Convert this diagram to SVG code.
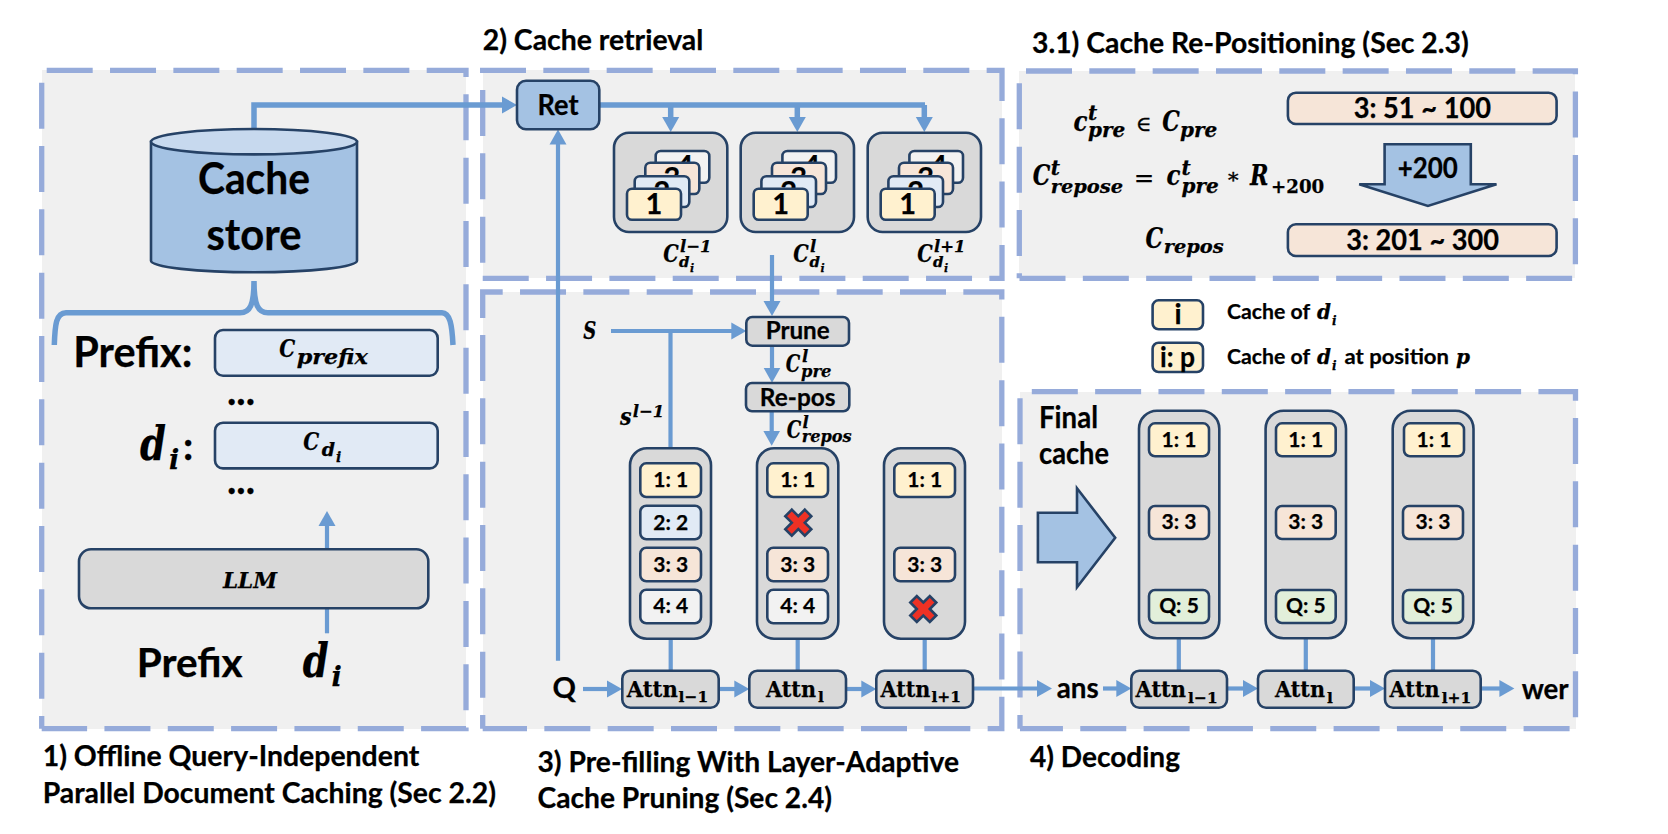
<svg xmlns="http://www.w3.org/2000/svg" width="1668" height="834" viewBox="0 0 1668 834">
<style>
text{fill:#000;font-family:"Lato","Liberation Sans",sans-serif;font-weight:700;stroke:#000;stroke-width:.25}
.m,.m tspan{font-family:"DejaVu Serif","Liberation Serif",serif;font-weight:700;font-style:italic}
.a,.a tspan{font-family:"DejaVu Serif","Liberation Serif",serif;font-weight:700;font-style:normal}
.c{text-anchor:middle}
.title{font-size:28px}
.bg{fill:#f0f0f0}
.dash{fill:none;stroke:#96abda;stroke-width:5.3;stroke-dasharray:46 17.33}
.n{stroke:#264266;stroke-width:2.6}
.gray{fill:#d9d9d9}
.blue{fill:#a4c2e3}
.y{fill:#fff1cf}.b{fill:#e1eaf5}.o{fill:#f6e5d8}.w{fill:#f2f2f2}.g{fill:#e2efda}
.chip{font-size:21px;text-anchor:middle}
.x{fill:#ee3124;stroke:#264266;stroke-width:2.6}
.l{fill:none;stroke:#6a9bd2;stroke-width:4.2}
.l5{fill:none;stroke:#6a9bd2;stroke-width:5.5}
.ar{marker-end:url(#h)}
.num{font-size:29px;text-anchor:middle}
.sym{font-family:"DejaVu Serif",serif;font-weight:400;stroke-width:.4}
</style>
<defs>
<marker id="h" markerUnits="userSpaceOnUse" markerWidth="16" markerHeight="18" refX="7" refY="8.5" orient="auto" viewBox="0 0 16 17"><polygon points="0,0 15,8.5 0,17" fill="#6a9bd2"/></marker>
</defs>

<g id="panels">
<rect class="bg" x="42" y="70" width="424" height="659"/>
<rect class="bg" x="483" y="70" width="519" height="208"/>
<rect class="bg" x="483" y="292" width="519" height="437"/>
<rect class="bg" x="1019" y="71" width="556" height="207"/>
<rect class="bg" x="1020" y="392" width="556" height="337"/>
<path class="dash" d="M46.7 70.3H466V728.7H41.7M41.7 82.7V728.7"/>
<path class="dash" d="M480 70.3H1002V278.3H482.7M482.7 90V278.3"/>
<path class="dash" d="M482.7 318V292H1001.8V728.7H482.7M482.7 335V728.7"/>
<path class="dash" d="M1026 71H1575.4V278.3H1019.3M1019.3 83.3V278.3"/>
<path class="dash" d="M1031.8 391.7H1575.5V728.7H1020M1020 398.3V728.7"/>
</g>

<g id="connectors">
<path class="l5 ar" d="M254 129V105H509"/>
<path class="l5" d="M599 105H925"/>
<path class="l5 ar" d="M670.7 105V124"/>
<path class="l5 ar" d="M797.3 105V124"/>
<path class="l5 ar" d="M924.3 105V124"/>
<path class="l ar" d="M558 660.7V137.5"/>
<path class="l ar" d="M772 255V308"/>
<path class="l ar" d="M772 345.7V374.7"/>
<path class="l ar" d="M771.7 411.3V437.7"/>
<path class="l ar" d="M611 331H738.3"/>
<path class="l" d="M670.5 331V448.3"/>
<path class="l" d="M670.7 638.7V670.7M797.7 638.7V670.7M924.7 638.7V670.7"/>
<path class="l" d="M1178.8 638.3V670.7M1305.8 638.3V670.7M1433 638.3V670.7"/>
<path class="l ar" d="M583 689H614"/>
<path class="l ar" d="M718.7 689H741.3"/>
<path class="l ar" d="M846 689H868.3"/>
<path class="l ar" d="M973 688.5H1044"/>
<path class="l ar" d="M1103 688.5H1123.3"/>
<path class="l ar" d="M1227 688.5H1250"/>
<path class="l ar" d="M1353.7 688.5H1377"/>
<path class="l ar" d="M1480.7 688.5H1506.4"/>
<path class="l ar" d="M327 633.3V519"/>
<path class="l5" d="M54.3 345C55 325 56 312.7 66 312.7H240C250 312.7 254 305 254 281C254 305 258 312.7 268 312.7H442C450 312.7 452 325 453 345"/>
</g>

<g id="titles">
<text class="title" x="482.7" y="50" textLength="220.6" lengthAdjust="spacingAndGlyphs">2) Cache retrieval</text>
<text class="title" x="1032" y="53.3" textLength="436.7" lengthAdjust="spacingAndGlyphs">3.1) Cache Re-Positioning (Sec 2.3)</text>
<text class="title" x="42.7" y="766" textLength="376.6" lengthAdjust="spacingAndGlyphs">1) Offline Query-Independent</text>
<text class="title" x="42.7" y="803.3" textLength="453.3" lengthAdjust="spacingAndGlyphs">Parallel Document Caching (Sec 2.2)</text>
<text class="title" x="537.5" y="771.7" textLength="421.5" lengthAdjust="spacingAndGlyphs">3) Pre-filling With Layer-Adaptive</text>
<text class="title" x="537.5" y="807.7" textLength="294.5" lengthAdjust="spacingAndGlyphs">Cache Pruning (Sec 2.4)</text>
<text class="title" x="1030" y="766.7" textLength="150" lengthAdjust="spacingAndGlyphs">4) Decoding</text>
</g>

<g id="cache-store">
<path class="n blue" d="M151 141.7V260.7C151 267 197 272.3 254 272.3S357 267 357 260.7V141.7Z"/>
<ellipse class="n" fill="#c7d9ee" cx="254" cy="141.7" rx="103" ry="12.7"/>
<text class="c" x="254" y="194.3" font-size="43" textLength="112" lengthAdjust="spacingAndGlyphs">Cache</text>
<text class="c" x="254" y="250" font-size="43" textLength="95" lengthAdjust="spacingAndGlyphs">store</text>
</g>

<g id="prefix-row">
<text x="73.3" y="366.7" font-size="42" textLength="119" lengthAdjust="spacingAndGlyphs">Prefix:</text>
<rect class="n b" x="215" y="330" width="222.7" height="45.7" rx="8"/>
<text class="m" font-size="25"><tspan x="279.3" y="356.7" textLength="16" lengthAdjust="spacingAndGlyphs">C</tspan><tspan x="296.7" y="364.3" font-size="21" textLength="71" lengthAdjust="spacingAndGlyphs">prefix</tspan></text>
<text x="227" y="405" font-size="40" textLength="28" lengthAdjust="spacingAndGlyphs">...</text>
</g>

<g id="di-row">
<text class="m" font-size="46"><tspan x="140" y="460" textLength="26" lengthAdjust="spacingAndGlyphs">d</tspan><tspan x="169" y="469.3" font-size="27">i</tspan></text>
<text x="183" y="460" font-size="40">:</text>
<rect class="n b" x="215" y="422.7" width="222.7" height="45.7" rx="8"/>
<text class="m" font-size="25"><tspan x="303.3" y="450" textLength="16" lengthAdjust="spacingAndGlyphs">C</tspan><tspan x="321.7" y="456" font-size="19">d</tspan><tspan x="336" y="461.7" font-size="14">i</tspan></text>
<text x="227" y="493.5" font-size="40" textLength="28" lengthAdjust="spacingAndGlyphs">...</text>
</g>

<g id="llm">
<rect class="n gray" x="79" y="549.3" width="349.3" height="59" rx="12"/>
<text class="m c" x="250" y="587.7" font-size="21.5">LLM</text>
</g>

<g id="inputs">
<text x="136.7" y="676.7" font-size="41" textLength="106" lengthAdjust="spacingAndGlyphs">Prefix</text>
<text class="m" font-size="46"><tspan x="302.7" y="676.7" textLength="26" lengthAdjust="spacingAndGlyphs">d</tspan><tspan x="331.5" y="686" font-size="27">i</tspan></text>
</g>

<g id="ret">
<rect class="n blue" x="517" y="80.7" width="82.3" height="48.6" rx="9"/>
<text class="c" x="558" y="115" font-size="28" textLength="41" lengthAdjust="spacingAndGlyphs">Ret</text>
</g>

<g id="cache-l-1">
<rect class="n gray" x="614" y="132.7" width="113.3" height="99.3" rx="15"/>
<rect class="n w" x="655.7" y="151" width="53.6" height="31.7" rx="5"/><text class="num" x="685" y="176">4</text>
<rect class="n o" x="645.3" y="162.7" width="54" height="31.3" rx="5"/><text class="num" x="672" y="188">3</text>
<rect class="n b" x="634.7" y="176.3" width="54.6" height="30.7" rx="5"/><text class="num" x="662" y="202">2</text>
<rect class="n y" x="627" y="188.7" width="54" height="31" rx="5"/><text class="num" x="654" y="214">1</text>
</g>
<g id="cache-l">
<rect class="n gray" x="740.7" y="132.7" width="113.3" height="99.3" rx="15"/>
<rect class="n w" x="782.4" y="151" width="53.6" height="31.7" rx="5"/><text class="num" x="811.7" y="176">4</text>
<rect class="n o" x="772" y="162.7" width="54" height="31.3" rx="5"/><text class="num" x="798.7" y="188">3</text>
<rect class="n b" x="761.4" y="176.3" width="54.6" height="30.7" rx="5"/><text class="num" x="788.7" y="202">2</text>
<rect class="n y" x="753.7" y="188.7" width="54" height="31" rx="5"/><text class="num" x="780.7" y="214">1</text>
</g>
<g id="cache-l1">
<rect class="n gray" x="867.7" y="132.7" width="113.3" height="99.3" rx="15"/>
<rect class="n w" x="909.4" y="151" width="53.6" height="31.7" rx="5"/><text class="num" x="938.7" y="176">4</text>
<rect class="n o" x="899" y="162.7" width="54" height="31.3" rx="5"/><text class="num" x="925.7" y="188">3</text>
<rect class="n b" x="888.4" y="176.3" width="54.6" height="30.7" rx="5"/><text class="num" x="915.7" y="202">2</text>
<rect class="n y" x="880.7" y="188.7" width="54" height="31" rx="5"/><text class="num" x="907.7" y="214">1</text>
</g>
<g id="cache-labels">
<text class="m" font-size="24"><tspan x="663.3" y="261.7" textLength="15.5" lengthAdjust="spacingAndGlyphs">C</tspan><tspan x="680" y="251.5" font-size="16.5">l−1</tspan><tspan x="679" y="267" font-size="15">d</tspan><tspan x="690" y="271.5" font-size="11">i</tspan></text>
<text class="m" font-size="24"><tspan x="793.3" y="261.7" textLength="15.5" lengthAdjust="spacingAndGlyphs">C</tspan><tspan x="810" y="251.5" font-size="16.5">l</tspan><tspan x="809.5" y="267" font-size="15">d</tspan><tspan x="820.5" y="271.5" font-size="11">i</tspan></text>
<text class="m" font-size="24"><tspan x="917.3" y="261.7" textLength="15.5" lengthAdjust="spacingAndGlyphs">C</tspan><tspan x="934" y="251.5" font-size="16.5">l+1</tspan><tspan x="933" y="267" font-size="15">d</tspan><tspan x="944" y="271.5" font-size="11">i</tspan></text>
</g>

<g id="prune">
<rect class="n gray" x="746.3" y="317" width="102.7" height="28.7" rx="6"/>
<text class="c" x="797.7" y="339.3" font-size="24" textLength="64" lengthAdjust="spacingAndGlyphs">Prune</text>
</g>
<g id="repos">
<rect class="n gray" x="746" y="383" width="103.3" height="28.3" rx="6"/>
<text class="c" x="797.7" y="405.7" font-size="24" textLength="75.7" lengthAdjust="spacingAndGlyphs">Re-pos</text>
</g>
<g id="row3-labels">
<text class="m" x="583.3" y="339.3" font-size="25" textLength="13" lengthAdjust="spacingAndGlyphs">S</text>
<text class="m" font-size="24"><tspan x="620" y="425" textLength="11.5" lengthAdjust="spacingAndGlyphs">s</tspan><tspan x="632.7" y="416.7" font-size="16.5">l−1</tspan></text>
<text class="m" font-size="24"><tspan x="785.7" y="371.7" textLength="14.5" lengthAdjust="spacingAndGlyphs">C</tspan><tspan x="802" y="361.7" font-size="16.5">l</tspan><tspan x="801" y="376.7" font-size="17" textLength="30.5" lengthAdjust="spacingAndGlyphs">pre</tspan></text>
<text class="m" font-size="24"><tspan x="786.7" y="437.7" textLength="14.5" lengthAdjust="spacingAndGlyphs">C</tspan><tspan x="802.5" y="428" font-size="16.5">l</tspan><tspan x="801.7" y="442.3" font-size="16.5" textLength="50" lengthAdjust="spacingAndGlyphs">repos</tspan></text>
</g>

<g id="layer-l-1">
<rect class="n gray" x="630" y="448.3" width="81" height="190.4" rx="17"/>
<rect class="n y" x="640.3" y="463.3" width="60.7" height="33.7" rx="6"/><text class="chip" x="670.7" y="487.3">1: 1</text>
<rect class="n b" x="640.3" y="505.7" width="60.7" height="33.6" rx="6"/><text class="chip" x="670.7" y="530">2: 2</text>
<rect class="n o" x="640.3" y="547.7" width="60.7" height="33.6" rx="6"/><text class="chip" x="670.7" y="571.7">3: 3</text>
<rect class="n w" x="640.3" y="589.7" width="60.7" height="33.6" rx="6"/><text class="chip" x="670.7" y="613.3">4: 4</text>
</g>
<g id="layer-l">
<rect class="n gray" x="757" y="448.3" width="81.3" height="190.4" rx="17"/>
<rect class="n y" x="767.3" y="463.3" width="60.7" height="33.7" rx="6"/><text class="chip" x="797.7" y="487.3">1: 1</text>
<polygon class="x" transform="translate(798.3 522.7)" points="0,-6.5 6.5,-13 13,-6.5 6.5,0 13,6.5 6.5,13 0,6.5 -6.5,13 -13,6.5 -6.5,0 -13,-6.5 -6.5,-13"/>
<rect class="n o" x="767.3" y="547.7" width="60.7" height="33.6" rx="6"/><text class="chip" x="797.7" y="571.7">3: 3</text>
<rect class="n w" x="767.3" y="589.7" width="60.7" height="33.6" rx="6"/><text class="chip" x="797.7" y="613.3">4: 4</text>
</g>
<g id="layer-l1">
<rect class="n gray" x="884" y="448.3" width="81" height="190.4" rx="17"/>
<rect class="n y" x="894.3" y="463.3" width="60.7" height="33.7" rx="6"/><text class="chip" x="924.7" y="487.3">1: 1</text>
<rect class="n o" x="894.3" y="547.7" width="60.7" height="33.6" rx="6"/><text class="chip" x="924.7" y="571.7">3: 3</text>
<polygon class="x" transform="translate(923.3 609)" points="0,-6.5 6.5,-13 13,-6.5 6.5,0 13,6.5 6.5,13 0,6.5 -6.5,13 -13,6.5 -6.5,0 -13,-6.5 -6.5,-13"/>
</g>

<g id="attn-row3">
<text x="552.5" y="697.7" font-size="29">Q</text>
<rect class="n gray" x="622.3" y="670.7" width="96.4" height="37" rx="8"/>
<text class="a" font-size="23"><tspan x="626.8" y="697.3" textLength="51" lengthAdjust="spacingAndGlyphs">Attn</tspan><tspan x="678.6" y="702.3" font-size="15.5">l−1</tspan></text>
<rect class="n gray" x="749.3" y="670.7" width="96.7" height="37" rx="8"/>
<text class="a" font-size="23"><tspan x="766" y="697.3" textLength="50" lengthAdjust="spacingAndGlyphs">Attn</tspan><tspan x="818" y="702.3" font-size="15.5">l</tspan></text>
<rect class="n gray" x="876.3" y="670.7" width="96.7" height="37" rx="8"/>
<text class="a" font-size="23"><tspan x="880.4" y="697.3" textLength="50" lengthAdjust="spacingAndGlyphs">Attn</tspan><tspan x="931.4" y="702.3" font-size="15.5">l+1</tspan></text>
</g>

<g id="final-cache">
<text x="1039" y="427.7" font-size="30" textLength="59" lengthAdjust="spacingAndGlyphs">Final</text>
<text x="1039" y="464.3" font-size="30" textLength="70" lengthAdjust="spacingAndGlyphs">cache</text>
<polygon class="n blue" points="1037.9,512.7 1077,512.7 1077,488.3 1115.2,537.7 1077,587.3 1077,562.3 1037.9,562.3"/>
</g>
<g id="dec-l-1">
<rect class="n gray" x="1139" y="410.7" width="80.3" height="227.6" rx="18"/>
<rect class="n y" x="1149" y="423.3" width="60" height="33" rx="6"/><text class="chip" x="1179" y="446.7">1: 1</text>
<rect class="n o" x="1149" y="506" width="60" height="33" rx="6"/><text class="chip" x="1179" y="529.3">3: 3</text>
<rect class="n g" x="1149" y="590" width="60" height="33" rx="6"/><text class="chip" x="1179" y="613.3">Q: 5</text>
</g>
<g id="dec-l">
<rect class="n gray" x="1265.6" y="410.7" width="80.4" height="227.6" rx="18"/>
<rect class="n y" x="1276" y="423.3" width="59.7" height="33" rx="6"/><text class="chip" x="1305.8" y="446.7">1: 1</text>
<rect class="n o" x="1276" y="506" width="59.7" height="33" rx="6"/><text class="chip" x="1305.8" y="529.3">3: 3</text>
<rect class="n g" x="1276" y="590" width="59.7" height="33" rx="6"/><text class="chip" x="1305.8" y="613.3">Q: 5</text>
</g>
<g id="dec-l1">
<rect class="n gray" x="1392.7" y="410.7" width="80.8" height="227.6" rx="18"/>
<rect class="n y" x="1404" y="423.3" width="60" height="33" rx="6"/><text class="chip" x="1434" y="446.7">1: 1</text>
<rect class="n o" x="1403" y="506" width="60" height="33" rx="6"/><text class="chip" x="1433" y="529.3">3: 3</text>
<rect class="n g" x="1403" y="590" width="60" height="33" rx="6"/><text class="chip" x="1433" y="613.3">Q: 5</text>
</g>
<g id="attn-row5">
<text x="1056.7" y="698.3" font-size="29" textLength="42" lengthAdjust="spacingAndGlyphs">ans</text>
<rect class="n gray" x="1131.3" y="670.7" width="95.7" height="37" rx="8"/>
<text class="a" font-size="23"><tspan x="1135.5" y="696.7" textLength="50.5" lengthAdjust="spacingAndGlyphs">Attn</tspan><tspan x="1188" y="702.7" font-size="15.5">l−1</tspan></text>
<rect class="n gray" x="1258" y="670.7" width="95.7" height="37" rx="8"/>
<text class="a" font-size="23"><tspan x="1275" y="696.7" textLength="50" lengthAdjust="spacingAndGlyphs">Attn</tspan><tspan x="1327" y="702.7" font-size="15.5">l</tspan></text>
<rect class="n gray" x="1385" y="670.7" width="95.7" height="37" rx="8"/>
<text class="a" font-size="23"><tspan x="1389.6" y="696.7" textLength="50" lengthAdjust="spacingAndGlyphs">Attn</tspan><tspan x="1441.7" y="702.7" font-size="15.5">l+1</tspan></text>
<text x="1521.7" y="699.3" font-size="29" textLength="47" lengthAdjust="spacingAndGlyphs">wer</text>
</g>

<g id="repositioning">
<text class="m" font-size="28"><tspan x="1073.4" y="131" textLength="14" lengthAdjust="spacingAndGlyphs">c</tspan><tspan x="1088" y="120" font-size="20">t</tspan><tspan x="1088" y="137.3" font-size="20">pre</tspan></text>
<text class="sym" x="1136" y="131" font-size="21">∈</text>
<text class="m" font-size="28"><tspan x="1162.3" y="131" textLength="17.6" lengthAdjust="spacingAndGlyphs">C</tspan><tspan x="1180" y="137.3" font-size="20">pre</tspan></text>
<text class="m" font-size="28"><tspan x="1032.8" y="185" textLength="17.6" lengthAdjust="spacingAndGlyphs">C</tspan><tspan x="1050.7" y="175" font-size="20">t</tspan><tspan x="1050.7" y="192.7" font-size="19.4">repose</tspan></text>
<text class="sym" x="1134" y="186" font-size="24">=</text>
<text class="m" font-size="28"><tspan x="1166.4" y="185" textLength="14" lengthAdjust="spacingAndGlyphs">c</tspan><tspan x="1181.6" y="175" font-size="20">t</tspan><tspan x="1181.6" y="192.7" font-size="20">pre</tspan></text>
<text class="sym" x="1228" y="187" font-size="21">*</text>
<text class="m" font-size="28"><tspan x="1250" y="185" textLength="18.5" lengthAdjust="spacingAndGlyphs">R</tspan></text>
<text class="a" x="1271" y="192.7" font-size="18.2">+200</text>
<text class="m" font-size="28"><tspan x="1145.4" y="247.7" textLength="17.6" lengthAdjust="spacingAndGlyphs">C</tspan><tspan x="1163.7" y="253.3" font-size="19.4">repos</tspan></text>
<rect class="n o" x="1287.9" y="92.7" width="268.7" height="31.3" rx="8"/>
<text x="1353.7" y="118.3" font-size="29" textLength="137.3" lengthAdjust="spacingAndGlyphs">3: 51 ~ 100</text>
<polygon class="n blue" points="1384.6,144.3 1470.8,144.3 1470.8,184.3 1496.5,184.3 1427.9,206 1359.2,184.3 1384.6,184.3"/>
<text x="1397.7" y="178.3" font-size="28" textLength="60" lengthAdjust="spacingAndGlyphs">+200</text>
<rect class="n o" x="1287.9" y="224.3" width="268.7" height="31.7" rx="8"/>
<text x="1346.2" y="250" font-size="29" textLength="152.8" lengthAdjust="spacingAndGlyphs">3: 201 ~ 300</text>
</g>

<g id="legend">
<rect class="n y" x="1152.6" y="300.3" width="50.4" height="29" rx="6"/>
<text class="c" x="1178" y="324.3" font-size="28">i</text>
<text x="1227" y="319.3" font-size="20" textLength="83" lengthAdjust="spacingAndGlyphs">Cache of</text>
<text class="m" font-size="20"><tspan x="1317" y="319.3">d</tspan><tspan x="1332" y="324.5" font-size="12">i</tspan></text>
<rect class="n y" x="1152.6" y="342.7" width="50.4" height="29.3" rx="6"/>
<text x="1160" y="366.7" font-size="28" textLength="35" lengthAdjust="spacingAndGlyphs">i: p</text>
<text x="1227" y="364" font-size="20" textLength="83" lengthAdjust="spacingAndGlyphs">Cache of</text>
<text class="m" font-size="20"><tspan x="1317" y="364">d</tspan><tspan x="1332" y="369.5" font-size="12">i</tspan></text>
<text x="1344.5" y="364" font-size="20" textLength="104.5" lengthAdjust="spacingAndGlyphs">at position</text>
<text class="m" x="1456" y="364" font-size="20">p</text>
</g>
</svg>
